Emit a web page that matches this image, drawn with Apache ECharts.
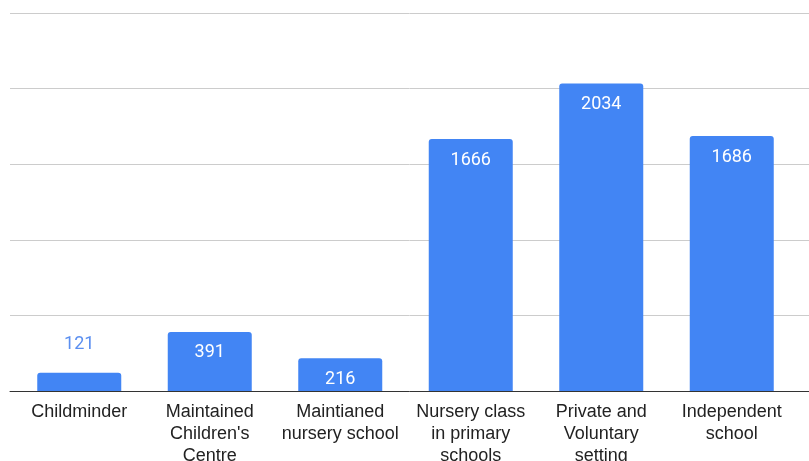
<!DOCTYPE html>
<html><head><meta charset="utf-8">
<script src="https://cdn.jsdelivr.net/npm/echarts@6/dist/echarts.min.js"></script>
<style>html,body{margin:0;padding:0;background:#fff}#c{width:809px;height:461px}</style>
</head><body><div id="c"></div>
<script>
const categories = ["Childminder", "Maintained\nChildren's\nCentre", "Maintianed\nnursery school", "Nursery class\nin primary\nschools", "Private and\nVoluntary\nsetting", "Independent\nschool"];
const values = [121, 391, 216, 1666, 2034, 1686];
const yTicks = {min: 0, max: 2500, interval: 500};

const chart = echarts.init(document.getElementById('c'), null, {renderer: 'canvas'});
chart.setOption({
  animation: false,
  grid: [
    {left: 14, right: 12, top: 13, bottom: 70, outerBoundsMode: 'none', containLabel: false},
    {left: 10, right: 0, top: 13, bottom: 70, outerBoundsMode: 'none', containLabel: false}
  ],
  xAxis: [
    {type: 'category', gridIndex: 0, data: categories,
     axisLine: {show: false}, axisTick: {show: false},
     axisLabel: {interval: 0, margin: 10, color: '#222', fontFamily: 'Liberation Sans', fontSize: 18, lineHeight: 22}},
    {type: 'value', gridIndex: 1, min: 0, max: 1, position: 'bottom',
     axisLine: {show: true, onZero: false, lineStyle: {color: '#333', width: 1}},
     axisTick: {show: false}, axisLabel: {show: false}, splitLine: {show: false}}
  ],
  yAxis: [
    {type: 'value', gridIndex: 0, min: yTicks.min, max: yTicks.max, interval: yTicks.interval,
     axisLine: {show: false}, axisTick: {show: false}, axisLabel: {show: false}, splitLine: {show: false}},
    {type: 'value', gridIndex: 1, min: yTicks.min, max: yTicks.max, interval: yTicks.interval,
     axisLine: {show: false}, axisTick: {show: false}, axisLabel: {show: false},
     splitLine: {show: true, lineStyle: {color: '#cccccc', width: 1}}}
  ],
  series: [{
    type: 'bar', xAxisIndex: 0, yAxisIndex: 0, z: 5,
    data: values.map(v => ({
      value: v,
      label: v < 150
        ? {position: 'top', distance: 19, color: '#5b8ff0'}
        : {position: 'insideTop', distance: 12, color: '#ffffff'}
    })),
    barWidth: 84,
    itemStyle: {color: '#4285F4', borderRadius: [3, 3, 0, 0]},
    label: {show: true, fontFamily: 'Roboto', fontSize: 18}
  }]
});
</script></body></html>
